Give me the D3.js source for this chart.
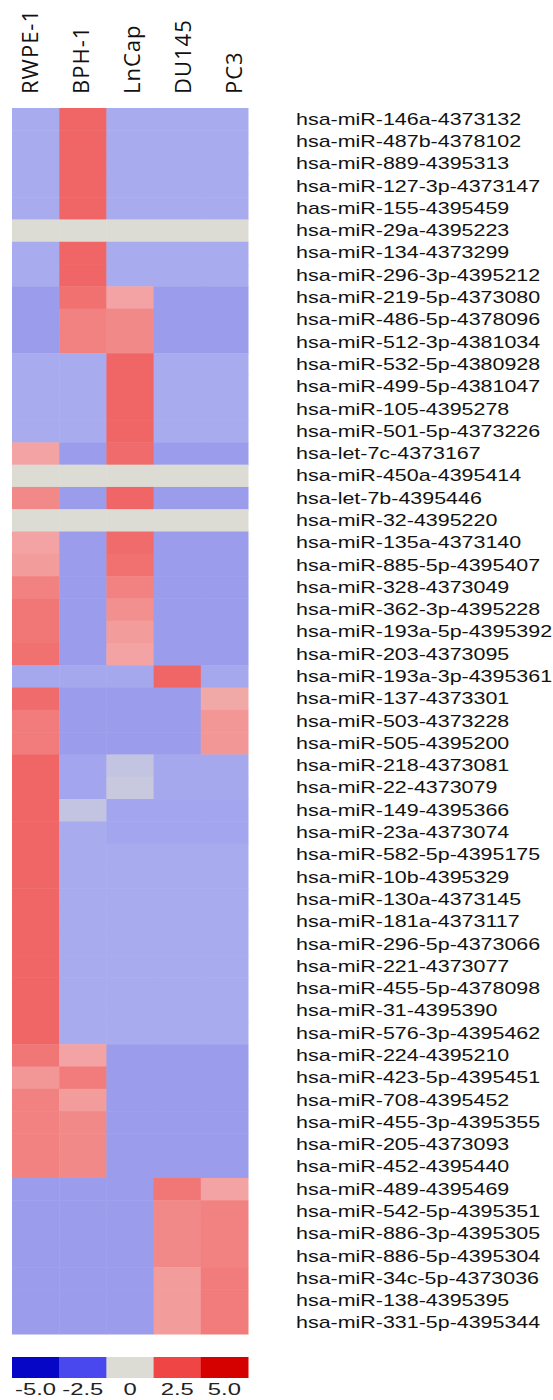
<!DOCTYPE html>
<html>
<head>
<meta charset="utf-8">
<script src="https://cdn.jsdelivr.net/npm/d3@7"></script>
<style>
  body { margin: 0; background: #fff; }
</style>
</head>
<body>
<div id="chart"></div>
<script>
// cell lines (columns) and miRNA assays (rows)
const cellLines = ["RWPE-1", "BPH-1", "LnCap", "DU145", "PC3"];

const mirnas = [
  "hsa-miR-146a-4373132", "hsa-miR-487b-4378102", "hsa-miR-889-4395313", "hsa-miR-127-3p-4373147",
  "has-miR-155-4395459", "hsa-miR-29a-4395223", "hsa-miR-134-4373299", "hsa-miR-296-3p-4395212",
  "hsa-miR-219-5p-4373080", "hsa-miR-486-5p-4378096", "hsa-miR-512-3p-4381034", "hsa-miR-532-5p-4380928",
  "hsa-miR-499-5p-4381047", "hsa-miR-105-4395278", "hsa-miR-501-5p-4373226", "hsa-let-7c-4373167",
  "hsa-miR-450a-4395414", "hsa-let-7b-4395446", "hsa-miR-32-4395220", "hsa-miR-135a-4373140",
  "hsa-miR-885-5p-4395407", "hsa-miR-328-4373049", "hsa-miR-362-3p-4395228", "hsa-miR-193a-5p-4395392",
  "hsa-miR-203-4373095", "hsa-miR-193a-3p-4395361", "hsa-miR-137-4373301", "hsa-miR-503-4373228",
  "hsa-miR-505-4395200", "hsa-miR-218-4373081", "hsa-miR-22-4373079", "hsa-miR-149-4395366",
  "hsa-miR-23a-4373074", "hsa-miR-582-5p-4395175", "hsa-miR-10b-4395329", "hsa-miR-130a-4373145",
  "hsa-miR-181a-4373117", "hsa-miR-296-5p-4373066", "hsa-miR-221-4373077", "hsa-miR-455-5p-4378098",
  "hsa-miR-31-4395390", "hsa-miR-576-3p-4395462", "hsa-miR-224-4395210", "hsa-miR-423-5p-4395451",
  "hsa-miR-708-4395452", "hsa-miR-455-3p-4395355", "hsa-miR-205-4373093", "hsa-miR-452-4395440",
  "hsa-miR-489-4395469", "hsa-miR-542-5p-4395351", "hsa-miR-886-3p-4395305", "hsa-miR-886-5p-4395304",
  "hsa-miR-34c-5p-4373036", "hsa-miR-138-4395395", "hsa-miR-331-5p-4395344"
];

// expression values per cell line, one per miRNA
const rwpe1 = [
  -1, -1, -1, -1, -1, 0, -1, -1, -1.5, -1.5, -1.5, -1, -1, -1, -1, 1.0, 0, 1.4, 0, 1.0,
  1.1, 1.5, 1.7, 1.7, 1.8, -1.1, 1.9, 1.6, 1.6, 2, 2, 2, 2, 2, 2, 2, 2, 2, 2, 2,
  2, 2, 1.7, 1.2, 1.5, 1.5, 1.5, 1.5, -1.5, -1.5, -1.5, -1.5, -1.5, -1.5, -1.5
];
const bph1 = [
  2, 2, 2, 2, 2, 0, 2, 2, 1.8, 1.5, 1.5, -1, -1, -1, -1, -1.5, 0, -1.5, 0, -1.5,
  -1.5, -1.5, -1.5, -1.5, -1.5, -1.1, -1.5, -1.5, -1.5, -1.2, -1.2, -0.5, -1.0, -1, -1, -1, -1, -1, -1, -1,
  -1, -1, 1.0, 1.6, 1.1, 1.4, 1.4, 1.4, -1.5, -1.5, -1.5, -1.5, -1.5, -1.5, -1.5
];
const lncap = [
  -1, -1, -1, -1, -1, 0, -1, -1, 1.0, 1.4, 1.4, 2, 2, 2, 2, 1.9, 0, 2, 0, 1.9,
  1.8, 1.5, 1.3, 1.1, 1.0, -1.1, -1.5, -1.5, -1.5, -0.5, -0.4, -1.2, -1.2, -1, -1, -1, -1, -1, -1, -1,
  -1, -1, -1.5, -1.5, -1.5, -1.5, -1.5, -1.5, -1.5, -1.5, -1.5, -1.5, -1.5, -1.5, -1.5
];
const du145 = [
  -1, -1, -1, -1, -1, 0, -1, -1, -1.5, -1.5, -1.5, -1, -1, -1, -1, -1.5, 0, -1.5, 0, -1.5,
  -1.5, -1.5, -1.5, -1.5, -1.5, 2, -1.5, -1.5, -1.5, -1.1, -1.1, -1.2, -1.2, -1, -1, -1, -1, -1, -1, -1,
  -1, -1, -1.5, -1.5, -1.5, -1.5, -1.5, -1.5, 1.7, 1.4, 1.4, 1.4, 1.1, 1.1, 1.1
];
const pc3 = [
  -1, -1, -1, -1, -1, 0, -1, -1, -1.5, -1.5, -1.5, -1, -1, -1, -1, -1.5, 0, -1.5, 0, -1.5,
  -1.5, -1.5, -1.5, -1.5, -1.5, -1.1, 0.9, 1.2, 1.2, -1.1, -1.1, -1.2, -1.2, -1, -1, -1, -1, -1, -1, -1,
  -1, -1, -1.5, -1.5, -1.5, -1.5, -1.5, -1.5, 1.0, 1.5, 1.5, 1.5, 1.6, 1.6, 1.6
];

// colour key
const legendValues = [-5.0, -2.5, 0, 2.5, 5.0];
const legendLabels = ["-5.0", "-2.5", "0", "2.5", "5.0"];

const series = [rwpe1, bph1, lncap, du145, pc3];

const W = 553, H = 1400;
const hm = { left: 12, top: 108, width: 236, height: 1226 };

const svg = d3.select("#chart").append("svg")
  .attr("width", W)
  .attr("height", H)
  .style("font-family", "'Liberation Sans', Arial, sans-serif");

const x = d3.scaleBand().domain(cellLines).range([hm.left, hm.left + hm.width]);
const y = d3.scaleBand().domain(mirnas).range([hm.top, hm.top + hm.height]);

// column headers sit a bit wider apart than the columns themselves
const xHead = d3.scalePoint().domain(cellLines).range([30.5, 234.5]);

const color = d3.scaleLinear()
  .domain([-5, -2.5, -1.5, -1, 0, 1, 1.5, 2, 2.5, 5])
  .range(["#0606c6", "#4848ee", "#9b9dec", "#a9abef", "#dddcd4",
          "#f3a3a3", "#f28282", "#f06666", "#f04545", "#d50000"])
  .clamp(true);

// flatten into cells
const cells = [];
mirnas.forEach((m, i) => {
  cellLines.forEach((c, j) => {
    cells.push({ mirna: m, line: c, value: series[j][i] });
  });
});

svg.append("g")
  .selectAll("rect")
  .data(cells)
  .join("rect")
  .attr("x", d => x(d.line))
  .attr("y", d => y(d.mirna))
  .attr("width", x.bandwidth() + 0.5)
  .attr("height", y.bandwidth() + 0.5)
  .attr("fill", d => color(d.value));

// column headers, rotated
svg.append("g")
  .selectAll("text")
  .data(cellLines)
  .join("text")
  .attr("transform", d => `translate(${xHead(d)}, 94) rotate(-90)`)
  .attr("dy", "0.35em")
  .attr("text-anchor", "start")
  .style("font-family", "'Open Sans', sans-serif")
  .style("font-size", "22px")
  .style("letter-spacing", "1px")
  .attr("fill", "#111")
  .text(d => d);

// row labels (the source text is stretched wide)
svg.append("g")
  .selectAll("text")
  .data(mirnas)
  .join("text")
  .attr("transform", d => `translate(296, ${y(d) + y.bandwidth() / 2}) scale(1.34, 1)`)
  .attr("dy", "0.35em")
  .style("font-size", "16px")
  .attr("fill", "#111")
  .text(d => d);

// legend
const lg = { top: 1357, height: 21 };
const xLeg = d3.scaleBand().domain(legendValues).range([hm.left, hm.left + hm.width]);

svg.append("g")
  .selectAll("rect")
  .data(legendValues)
  .join("rect")
  .attr("x", d => xLeg(d))
  .attr("y", lg.top)
  .attr("width", xLeg.bandwidth() + 0.5)
  .attr("height", lg.height)
  .attr("fill", d => color(d));

svg.append("g")
  .selectAll("text")
  .data(legendValues)
  .join("text")
  .attr("transform", d => `translate(${xLeg(d) + xLeg.bandwidth() / 2}, 1395) scale(1.4, 1)`)
  .attr("text-anchor", "middle")
  .style("font-size", "17px")
  .attr("fill", "#222")
  .text((d, i) => legendLabels[i]);
</script>
</body>
</html>
